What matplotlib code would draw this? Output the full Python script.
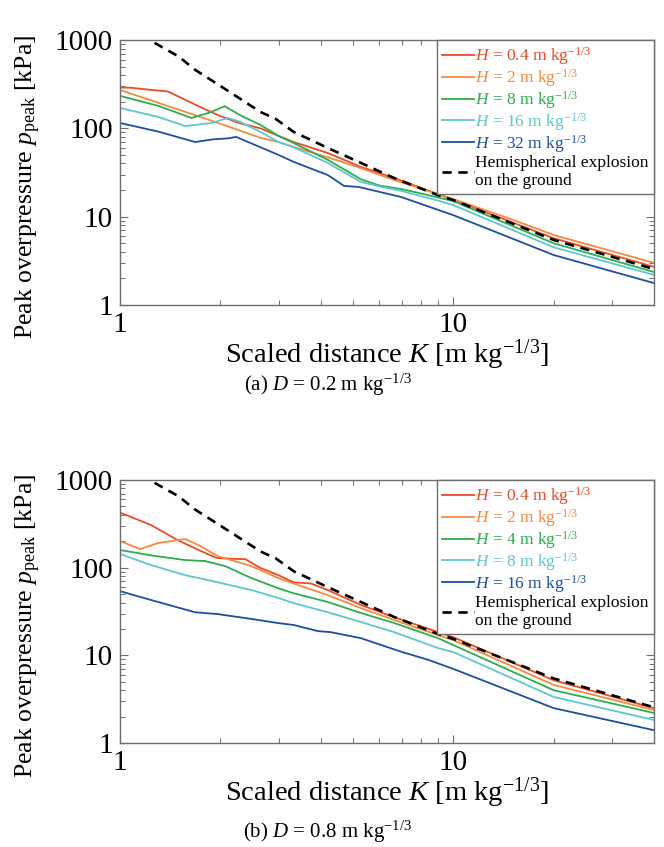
import numpy as np
import matplotlib
matplotlib.use("Agg")
import matplotlib.pyplot as plt
from matplotlib.ticker import LogLocator, FixedLocator, FixedFormatter, NullFormatter

plt.rcParams['font.family'] = ['Liberation Serif', 'DejaVu Serif']
plt.rcParams['mathtext.fontset'] = 'custom'
plt.rcParams['mathtext.rm'] = 'Liberation Serif'
plt.rcParams['mathtext.it'] = 'Liberation Serif:italic'
plt.rcParams['mathtext.bf'] = 'Liberation Serif:bold'

# ---------------- data ----------------
hemi_K = [1.27, 1.5, 1.68, 2.11, 2.64, 2.93, 3.32, 4.2, 5.28, 6.64, 9.0, 10, 15, 20, 30, 40]
hemi_p = [927, 650, 460, 265, 153, 128, 91, 60, 40.6, 27.4, 17.5, 15.4, 8.4, 5.45, 3.5, 2.55]

# (a) D = 0.2
a_labels = ['0.4', '2', '8', '16', '32']
a_K = [
    [1.0, 1.08, 1.24, 1.39, 1.57, 1.72, 1.97, 2.27, 2.64, 2.99, 3.32, 4.2, 5.28, 6.64, 10, 20, 40],
    [1.0, 1.39, 1.97, 2.64, 2.99, 3.32, 4.2, 5.28, 6.64, 10, 15, 20, 40],
    [1.0, 1.3, 1.64, 1.85, 2.06, 2.3, 2.64, 2.99, 3.32, 4.2, 5.28, 6.0, 7.0, 8.0, 10, 20, 40],
    [1.0, 1.3, 1.57, 1.88, 2.11, 2.3, 2.64, 2.99, 3.32, 4.2, 5.28, 6.0, 6.97, 9.0, 10, 20, 40],
    [1.0, 1.3, 1.68, 1.9, 2.11, 2.23, 2.64, 2.99, 3.32, 4.2, 4.7, 5.2, 6.97, 10, 20, 40],
]
a_p = [
    [290, 288, 272, 262, 210, 178, 141, 115, 100, 82, 70, 52.6, 36.6, 27.4, 15.5, 5.7, 2.7],
    [272, 179, 115, 78, 70, 61.5, 47, 35.5, 26, 15.8, 9.3, 6.2, 3.0],
    [233, 180, 131, 150, 178, 140, 109, 82, 68, 44, 26.5, 22.5, 20.5, 18.3, 15, 5.0, 2.36],
    [170, 135, 106, 115, 131, 118, 91, 70, 61, 40.6, 24.7, 22, 19.6, 15.2, 13.5, 4.5, 2.19],
    [115, 92, 70, 75, 77, 80, 61, 50, 41.7, 29.6, 22.3, 21.7, 16.7, 10.4, 3.68, 1.77],
]

# (b) D = 0.8
b_labels = ['0.4', '2', '4', '8', '16']
b_K = [
    [1.0, 1.24, 1.49, 1.72, 1.95, 2.2, 2.38, 2.64, 2.99, 3.32, 3.74, 4.2, 5.28, 6.64, 9, 10, 20, 40],
    [1.0, 1.15, 1.3, 1.57, 1.72, 1.97, 2.48, 2.99, 3.32, 4.2, 5.28, 6.64, 9, 10, 20, 40],
    [1.0, 1.24, 1.57, 1.8, 2.07, 2.48, 2.99, 3.32, 4.2, 5.28, 6.64, 9, 10, 20, 40],
    [1.0, 1.24, 1.57, 1.97, 2.48, 2.99, 3.32, 4.2, 5.28, 6.64, 9, 10, 20, 40],
    [1.0, 1.24, 1.68, 1.97, 2.48, 2.99, 3.32, 3.92, 4.28, 5.28, 6.97, 8.4, 10, 20, 40],
]
b_p = [
    [425, 306, 206, 159, 129, 126, 125, 99, 82, 68, 66, 55.5, 37.5, 27.3, 18.4, 16.1, 5.2, 2.5],
    [201, 163, 191, 212, 181, 135, 104, 76, 66, 48.6, 34.6, 25.3, 17, 14.9, 4.6, 2.37],
    [159, 138, 122, 119, 104, 76, 58, 51, 40.6, 30.4, 23.4, 15.7, 13.1, 4.0, 2.2],
    [143, 107, 82, 68, 55.5, 45, 39.4, 31, 24, 18.4, 12.1, 10.9, 3.35, 1.83],
    [54, 42.7, 31, 29.5, 26, 23.3, 22.2, 18.9, 18.4, 15.7, 11.0, 8.9, 7.0, 2.5, 1.4],
]

colors = ['#EF4A26', '#F58A3C', '#2BAF4A', '#5CC8CF', '#1F4EA3']
captions = [r'(a) $D$ = 0.2 m kg$^{-1/3}$', r'(b) $D$ = 0.8 m kg$^{-1/3}$']

# ---------------- figure ----------------
W, H = 664, 847
fig = plt.figure(figsize=(W / 100, H / 100), dpi=100)

def ax_rect(l, r, t, b):
    return [l / W, 1 - b / H, (r - l) / W, (b - t) / H]

rects = [ax_rect(120, 654, 40, 305), ax_rect(120, 654, 480, 743)]
datasets = [(a_labels, a_K, a_p), (b_labels, b_K, b_p)]
cap_y = [385, 832]
gray = '#6E6E6E'

for i in range(2):
    ax = fig.add_axes(rects[i])
    labels, Ks, ps = datasets[i]
    handles = []
    for j in range(5):
        h, = ax.plot(Ks[j], ps[j], color=colors[j], lw=1.3,
                     label=r'$H$ = ' + labels[j] + r' m kg$^{-1/3}$')
        handles.append(h)
    hh, = ax.plot(hemi_K, hemi_p, color='black', lw=1.9, ls=(0, (3.5, 2.5)),
                  label='Hemispherical explosion\non the ground')
    handles.append(hh)
    ax.set_xscale('log')
    ax.set_yscale('log')
    ax.set_xlim(1, 40)
    ax.set_ylim(1, 1000)
    ax.xaxis.set_major_locator(FixedLocator([1, 10]))
    ax.xaxis.set_major_formatter(FixedFormatter(['1', '10']))
    ax.xaxis.set_minor_locator(FixedLocator([2, 3, 4, 5, 6, 7, 8, 9, 20, 30]))
    ax.xaxis.set_minor_formatter(NullFormatter())
    ax.yaxis.set_major_locator(FixedLocator([1, 10, 100, 1000]))
    ax.yaxis.set_major_formatter(FixedFormatter(['1', '10', '100', '1000']))
    ax.yaxis.set_minor_locator(LogLocator(base=10, subs=np.arange(2, 10)))
    ax.yaxis.set_minor_formatter(NullFormatter())
    ax.tick_params(which='both', direction='in', top=True, right=True, color=gray)
    ax.tick_params(which='major', length=6, width=0.8, labelsize=21, pad=5)
    ax.tick_params(which='minor', length=3.5, width=0.7)
    for s in ax.spines.values():
        s.set_color(gray)
        s.set_linewidth(1.0)
    ax.set_xlabel(r'Scaled distance $K$ [m kg$^{-1/3}$]', fontsize=20.5, labelpad=0)
    ax.set_ylabel(r'Peak overpressure $p_{\rm peak}$ [kPa]', fontsize=18.5)
    ax.yaxis.set_label_coords(-0.145, 0.445)
    leg = ax.legend(handles=handles, loc='upper right', fontsize=12.5, frameon=True,
                    fancybox=False, framealpha=1, edgecolor=gray, borderaxespad=0,
                    handlelength=1.8, handletextpad=0.1, labelspacing=0.0,
                    borderpad=0.3)
    leg.get_frame().set_linewidth(1.0)
    for t, c in zip(leg.get_texts(), colors + ['black']):
        t.set_color(c)
    fig.text(328 / W, 1 - cap_y[i] / H, captions[i], ha='center', va='center', fontsize=15)

fig.savefig('out.png', dpi=100)
